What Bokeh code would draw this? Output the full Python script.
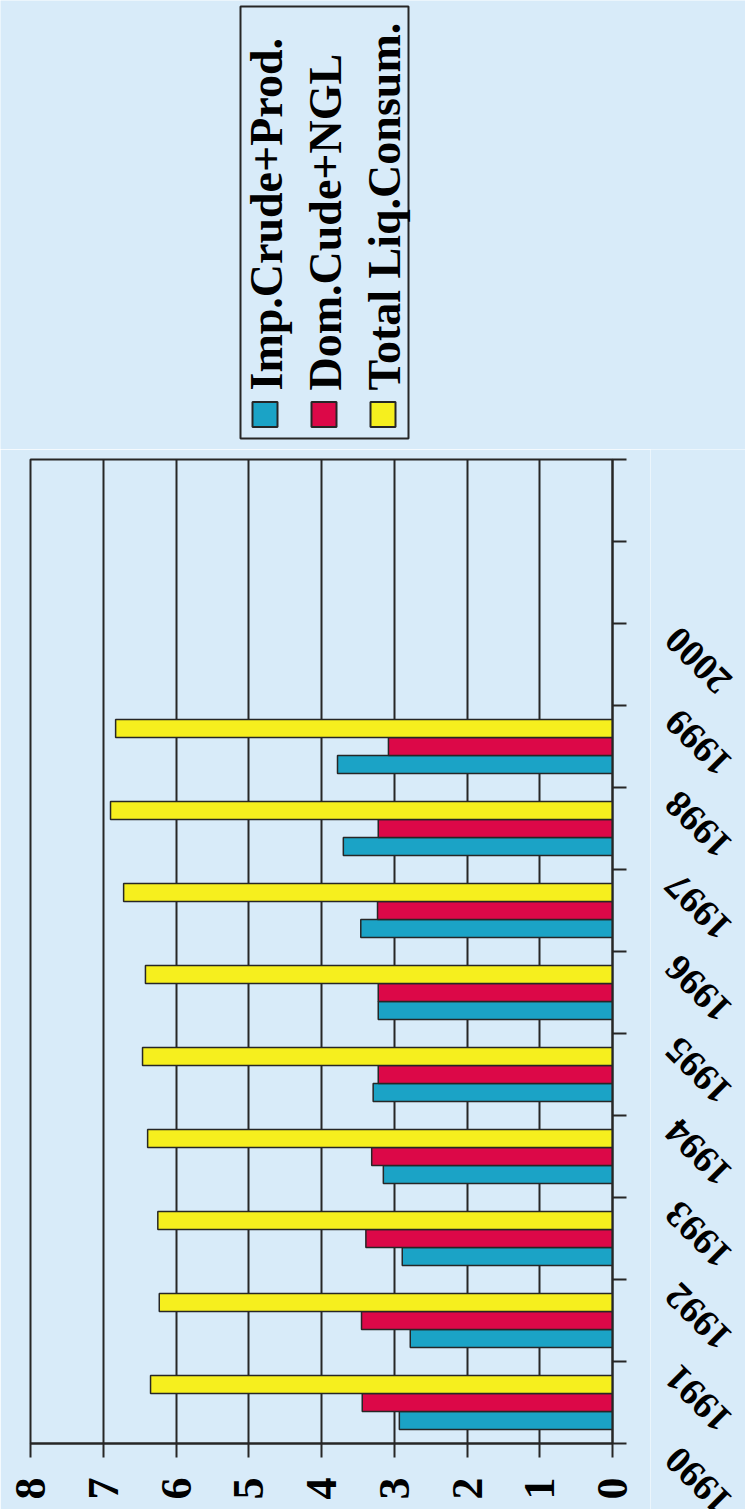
from math import pi
from bokeh.plotting import figure
from bokeh.models import Range1d, FixedTicker, ColumnDataSource
from bokeh.layouts import column, row
from bokeh.embed import file_html
from bokeh.resources import INLINE
from bokeh.core.properties import value
from bokeh.transform import dodge

# ---------------- data ----------------
years = [1990, 1991, 1992, 1993, 1994, 1995, 1996, 1997, 1998]
series_names = ["Imp.Crude+Prod.", "Dom.Cude+NGL", "Total Liq.Consum."]
imp_crude = [2.93, 2.78, 2.89, 3.15, 3.29, 3.22, 3.46, 3.70, 3.78]
dom_crude = [3.44, 3.45, 3.39, 3.31, 3.22, 3.22, 3.23, 3.22, 3.08]
total_liq = [6.35, 6.23, 6.25, 6.39, 6.46, 6.42, 6.72, 6.90, 6.83]
year_ticks = [1990, 1991, 1992, 1993, 1994, 1995, 1996, 1997, 1998, 1999, 2000, 2001, 2002]
year_labels = ["1990", "1991", "1992", "1993", "1994", "1995", "1996", "1997", "1998", "1999", "2000"]
value_ticks = [0, 1, 2, 3, 4, 5, 6, 7, 8]

# ---------------- style / layout constants ----------------
colors = ["#1ba3c6", "#dc0848", "#f6ef1e"]
BG = "#d8ebf9"
INK = "#262626"
FONT = "Liberation Serif"

W, H = 745, 1509
LEG_H = 449               # legend strip height
MAIN_W = 650              # chart panel width (frame 30..612)
FRAME_R = 612
TOP_B, BOT_B = 10, 66     # chart borders
FRAME_H = H - LEG_H - TOP_B - BOT_B
PX = FRAME_H / (year_ticks[-1] - year_ticks[0])   # pixels per year


def no_align(fig):
    if "frame_align" in fig.properties():
        fig.frame_align = False


src = ColumnDataSource(dict(
    yc=[y + 0.5 for y in years],
    imp=imp_crude, dom=dom_crude, tot=total_liq,
))

# ---------------- main chart ----------------
p = figure(width=MAIN_W, height=H - LEG_H,
           x_range=Range1d(value_ticks[-1], value_ticks[0]),
           y_range=Range1d(year_ticks[0], year_ticks[-1]),
           x_axis_location="below", y_axis_location="right",
           min_border_left=30, min_border_right=MAIN_W - FRAME_R,
           min_border_top=TOP_B, min_border_bottom=BOT_B,
           output_backend="svg", toolbar_location=None)
p.background_fill_color = BG
p.border_fill_color = BG
p.outline_line_color = INK
p.outline_line_width = 2
p.ygrid.visible = False
p.xgrid.grid_line_color = INK
p.xgrid.grid_line_width = 2
p.xgrid.grid_line_alpha = 1.0

xa = p.xaxis[0]
xa.ticker = FixedTicker(ticks=value_ticks)
xa.major_label_orientation = pi / 2
xa.major_label_text_font = FONT
xa.major_label_text_font_style = "bold"
xa.major_label_text_font_size = "44px"
xa.major_label_text_color = "black"
xa.major_label_standoff = 20
xa.major_tick_out = 14
xa.major_tick_in = 0
xa.minor_tick_line_color = None
xa.axis_line_color = INK
xa.axis_line_width = 2
xa.major_tick_line_color = INK
xa.major_tick_line_width = 2

ya = p.yaxis[0]
ya.ticker = FixedTicker(ticks=year_ticks)
ya.major_label_overrides = {t: "" for t in year_ticks}
ya.major_label_standoff = 0
ya.major_tick_out = 14
ya.major_tick_in = 0
ya.minor_tick_line_color = None
ya.axis_line_color = INK
ya.axis_line_width = 2
ya.major_tick_line_color = INK
ya.major_tick_line_width = 2

bar_h = 0.22
for field, off, col in [("imp", -bar_h, colors[0]), ("dom", 0.0, colors[1]), ("tot", bar_h, colors[2])]:
    p.hbar(y=dodge("yc", off, range=p.y_range), left=0, right=field, height=bar_h,
           fill_color=col, line_color=INK, line_width=1.5, source=src)

# ---------------- year labels panel (right of chart, same year scale, square aspect) ----------------
YL_W = W - MAIN_W
lift = 10  # labels hang slightly above each tick
y0 = year_ticks[0] - (BOT_B - lift) / PX
y1 = year_ticks[0] + (H - LEG_H - BOT_B + lift) / PX
yl = figure(width=YL_W, height=H - LEG_H, x_range=Range1d(0, YL_W / PX), y_range=Range1d(y0, y1),
            x_axis_location=None, y_axis_location=None, min_border=0,
            output_backend="svg", toolbar_location=None)
no_align(yl)
yl.background_fill_color = BG
yl.border_fill_color = BG
yl.outline_line_color = None
yl.xgrid.visible = False
yl.ygrid.visible = False
label_x = (671 - MAIN_W) / PX
yl.text(x=[label_x] * len(year_labels), y=year_ticks[:len(year_labels)], text=year_labels,
        angle=3 * pi / 4, text_align="right", text_baseline="middle",
        text_font=value(FONT), text_font_style="bold", text_font_size=value("38px"),
        text_color="black")

# ---------------- legend (rotated, drawn in its own panel) ----------------
lg = figure(width=W, height=LEG_H, x_range=Range1d(0, W), y_range=Range1d(LEG_H, 0),
            x_axis_location=None, y_axis_location=None, min_border=0,
            output_backend="svg", toolbar_location=None)
no_align(lg)
lg.background_fill_color = BG
lg.border_fill_color = BG
lg.outline_line_color = None
lg.xgrid.visible = False
lg.ygrid.visible = False

lg.quad(left=240, right=408, top=6, bottom=438, fill_alpha=0, line_color=INK, line_width=2)
n = len(series_names)
sq_x = [264.5 + 59 * i for i in range(n)]
lg.rect(x=sq_x, y=[414] * n, width=25, height=25, fill_color=colors, line_color=INK, line_width=2)
lg.text(x=[v + 1 for v in sq_x], y=[390] * n, text=series_names, angle=pi / 2,
        text_align="left", text_baseline="middle",
        text_font=value(FONT), text_font_style="bold", text_font_size=value("46px"),
        text_color="black")

layout = column(lg, row(p, yl, spacing=0), spacing=0)
open("out.html", "w").write(file_html(layout, INLINE))
